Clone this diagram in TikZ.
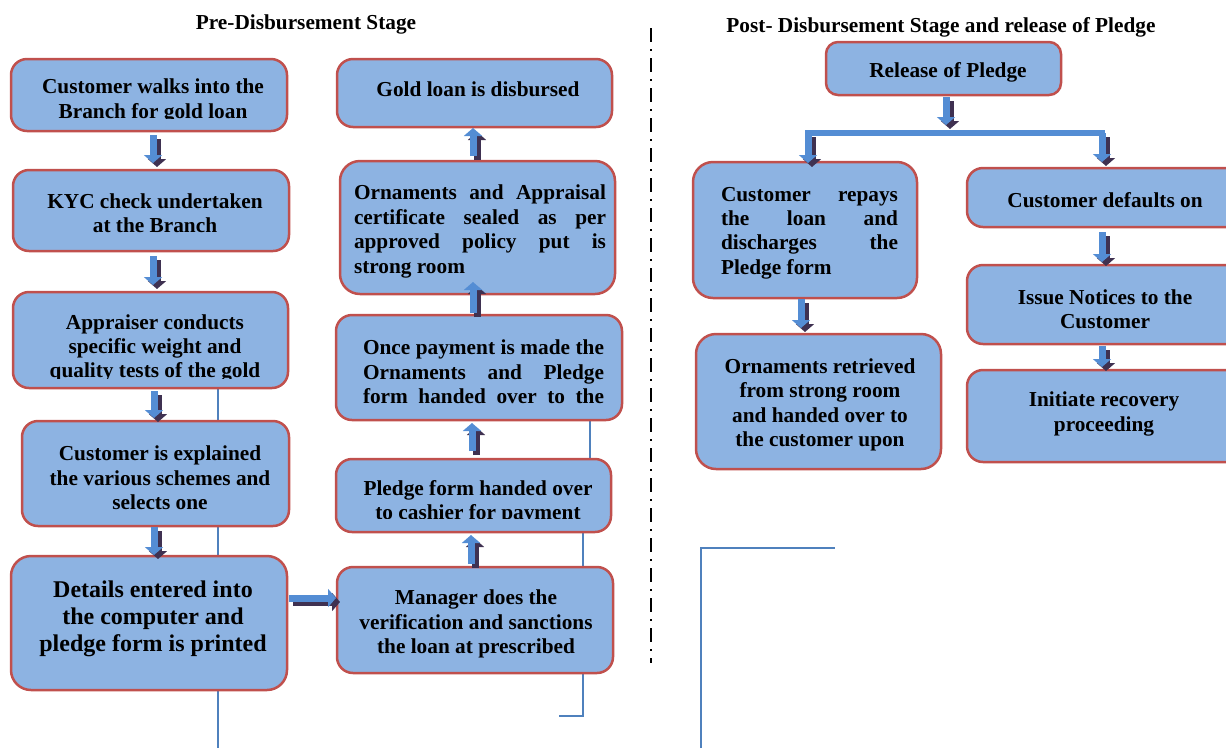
\documentclass[tikz,border=0pt]{standalone}
\usepackage{fontspec}
\setmainfont{Liberation Serif}
\usetikzlibrary{arrows.meta,calc}
\definecolor{boxfill}{HTML}{8DB3E2}
\definecolor{boxline}{HTML}{C0504D}
\definecolor{arrblue}{HTML}{548DD4}
\definecolor{arrshadow}{HTML}{3F3151}
\definecolor{strayblue}{HTML}{4F81BD}
\tikzset{
  box/.style={draw=boxline, fill=boxfill, line width=2.5pt, rounded corners=16pt, inner sep=0pt, outer sep=0pt},
  txt/.style={font=\bfseries\fontsize{21.3}{24.4}\selectfont, align=center, inner sep=0pt, yshift=-3pt},
  bigtxt/.style={font=\bfseries\fontsize{24}{27.3}\selectfont, align=center, inner sep=0pt, yshift=-3pt},
  jtxt/.style={font=\bfseries\fontsize{21.3}{24.4}\selectfont, align=left, inner sep=0pt, yshift=-3pt},
  barrow/.style={line width=7pt, arrblue, -{Triangle[length=8pt,width=18pt]}},
  sarrow/.style={line width=7pt, arrshadow, -{Triangle[length=8pt,width=18pt]}, transform canvas={xshift=4pt,yshift=-4pt}},
  strayline/.style={strayblue, line width=1.5pt},
  divider/.style={black, line width=2pt, dash pattern=on 14pt off 7pt on 1.5pt off 7.5pt},
  header/.style={font=\bfseries\fontsize{21.3}{24.4}\selectfont, inner sep=0pt, yshift=-2pt},
}
\newcommand\blockarr[2]{\draw[sarrow] #1 -- #2; \draw[barrow] #1 -- #2;}
\begin{document}
\begin{tikzpicture}[x=1pt,y=1pt]
\useasboundingbox (0,0) rectangle (1226,-748);
\clip (0,0) rectangle (1226,-748);

% stray thin lines (behind boxes)
\coordinate (s1a) at (218,-380);
\coordinate (s1b) at (218,-748);
\draw[strayline] (s1a) -- (s1b);
\coordinate (s2a) at (590,-400);
\coordinate (s2b) at (590,-470);
\draw[strayline] (s2a) -- (s2b);
\coordinate (s3a) at (583,-520);
\coordinate (s3b) at (583,-716);
\coordinate (s3c) at (559,-716);
\draw[strayline] (s3a) -- (s3b) -- (s3c);
\coordinate (s4a) at (701,-748);
\coordinate (s4b) at (701,-548);
\coordinate (s4c) at (835,-548);
\draw[strayline] (s4a) -- (s4b) -- (s4c);

% divider
\coordinate (divtop) at (651,-28);
\coordinate (divbot) at (651,-663);
\draw[divider] (divtop) -- (divbot);

% headers
\node[header] (h1) at (306,-22) {Pre-Disbursement Stage};
\node[header] (h2) at (941,-25) {Post- Disbursement Stage and release of Pledge};

% boxes
\node[box, minimum width=276, minimum height=72]  (b1) at (149,-95) {};
\node[box, minimum width=276, minimum height=81]  (b2) at (151,-210.5) {};
\node[box, minimum width=275, minimum height=96]  (b3) at (150.5,-340) {};
\node[box, minimum width=267, minimum height=105] (b4) at (155.5,-473.5) {};
\node[box, minimum width=276, minimum height=134, rounded corners=20pt] (b5) at (149,-623) {};
\node[box, minimum width=275, minimum height=68]  (r1) at (474.5,-93) {};
\node[box, minimum width=275, minimum height=133, rounded corners=20pt] (r2) at (477.5,-227.5) {};
\node[box, minimum width=286, minimum height=105] (r3) at (479,-367.5) {};
\node[box, minimum width=275, minimum height=73]  (r4) at (473.5,-495.5) {};
\node[box, minimum width=276, minimum height=106] (r5) at (475,-620) {};
\node[box, minimum width=235, minimum height=53, rounded corners=12pt]  (p1) at (943.5,-68.5) {};
\node[box, minimum width=224, minimum height=136, rounded corners=20pt] (p2) at (805,-230) {};
\node[box, minimum width=245, minimum height=135, rounded corners=20pt] (p3) at (818.5,-401.5) {};
\node[box, minimum width=276, minimum height=59]  (p4) at (1105,-197.5) {};
\node[box, minimum width=276, minimum height=79]  (p5) at (1105,-304.5) {};
\node[box, minimum width=276, minimum height=92]  (p6) at (1105,-416) {};

% texts
\begin{scope}
  \clip (11,-59) rectangle (287,-118);
  \node[txt] (t1) at (153,-98) {Customer walks into the\\Branch for gold loan};
\end{scope}
\node[txt] (t2) at (155,-210) {KYC check undertaken\\at the Branch};
\begin{scope}
  \clip (13,-292) rectangle (288,-378);
  \node[txt] (t3) at (155,-345.5) {Appraiser conducts\\specific weight and\\quality tests of the gold};
\end{scope}
\node[txt] (t4) at (160,-475) {Customer is explained\\the various schemes and\\selects one};
\node[bigtxt] (t5) at (153,-616) {Details entered into\\the computer and\\pledge form is printed};

\node[txt] (u1) at (478,-86) {Gold loan is disbursed};
\node[jtxt] (u2) at (480,-228.5) {\makebox[252pt][s]{Ornaments and Appraisal}\\\makebox[252pt][s]{certificate sealed as per}\\\makebox[252pt][s]{approved policy put is}\\\makebox[252pt][l]{strong room}};
\node[jtxt] (u3) at (483.5,-369) {\makebox[241pt][s]{Once payment is made the}\\\makebox[241pt][s]{Ornaments and Pledge}\\\makebox[241pt][s]{form handed over to the}};
\begin{scope}
  \clip (336,-459) rectangle (611,-518);
  \node[txt] (u4) at (478,-499) {Pledge form handed over\\to cashier for payment};
\end{scope}
\node[txt] (u5) at (476,-621) {Manager does the\\verification and sanctions\\the loan at prescribed};

\node[txt] (v1) at (948,-69) {Release of Pledge};
\node[jtxt] (v2) at (809.5,-230) {\makebox[177pt][s]{Customer repays}\\\makebox[177pt][s]{the loan and}\\\makebox[177pt][s]{discharges the}\\\makebox[177pt][l]{Pledge form}};
\node[txt] (v3) at (820,-402) {Ornaments retrieved\\from strong room\\and handed over to\\the customer upon};
\node[txt] (v4) at (1105,-197) {Customer defaults on};
\node[txt] (v5) at (1105,-306.5) {Issue Notices to the\\Customer};
\node[txt] (v6) at (1104,-411) {Initiate recovery\\proceeding};

% block arrows, left column (down)
\blockarr{($(b1.south)+(4,-4)$)}{($(b2.north)+(2,7)$)}
\blockarr{($(b2.south)+(2,-5)$)}{($(b3.north)+(2.5,7)$)}
\blockarr{($(b3.south)+(3.5,-3)$)}{($(b4.north)+(-1.5,3)$)}
\blockarr{($(b4.south)+(-1.5,-1)$)}{($(b5.north)+(5,1)$)}
% horizontal
\blockarr{($(b5.east)+(2,25)$)}{($(r5.west)+(-1,22)$)}
% right column (up)
\blockarr{($(r5.north)+(-4,3)$)}{($(r4.south)+(-2.5,-3)$)}
\blockarr{($(r4.north)+(-1.5,8)$)}{($(r3.south)+(-7,-3)$)}
\blockarr{($(r3.north)+(-6,2)$)}{($(r2.south)+(-4.5,12)$)}
\blockarr{($(r2.north)+(-4.5,5)$)}{($(r1.south)+(-1.5,-1)$)}

% post-disbursement
\coordinate (barL) at (808,-133);
\coordinate (barR) at (1102,-133);
\blockarr{($(p1.south)+(2.5,-2)$)}{($(p1.south)+(2.5,-30)$)}
\draw[arrblue, line width=6pt, line cap=rect] (barL) -- (barR);
\blockarr{(barL)}{($(p2.north)+(3,-1)$)}
\blockarr{(barR)}{($(p4.north)+(-3,6)$)}
\blockarr{($(p2.south)+(-4,-1)$)}{($(p3.north)+(-17.5,6)$)}
\blockarr{($(p4.south)+(-3,-5)$)}{($(p5.north)+(-3,3)$)}
\blockarr{($(p5.south)+(-3,-2)$)}{($(p6.north)+(-3,3)$)}
\end{tikzpicture}
\end{document}
